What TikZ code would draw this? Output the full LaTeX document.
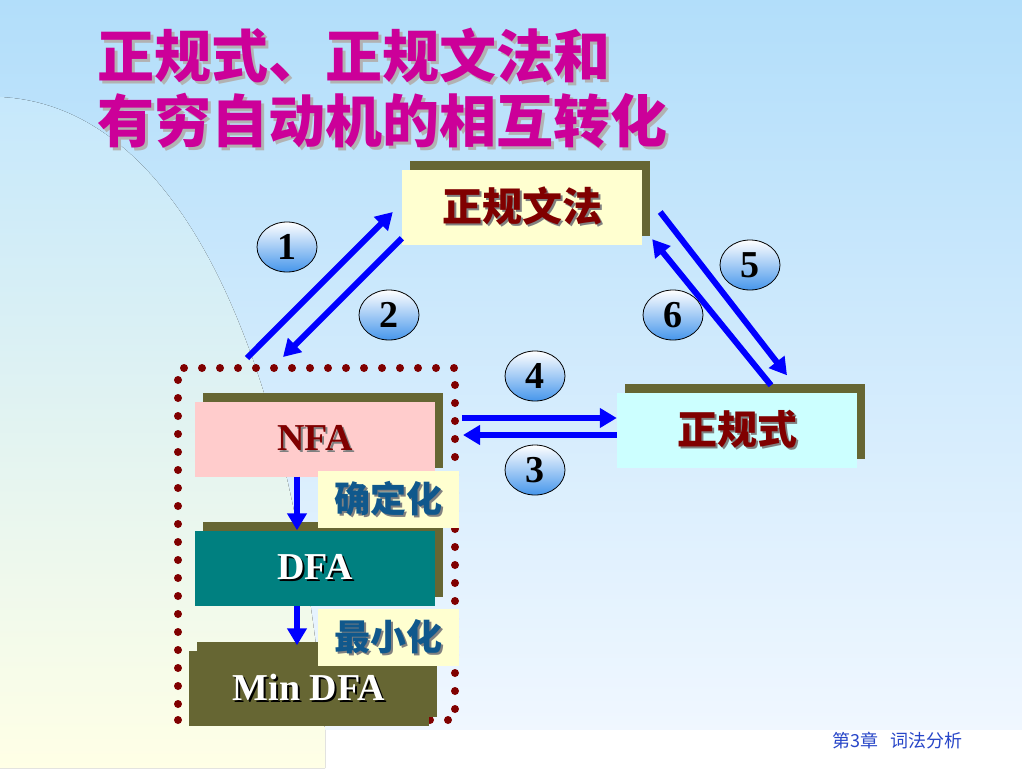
\documentclass[tikz,border=0pt]{standalone}
\usepackage{fontspec}
\setmainfont{Liberation Serif}
\newfontfamily\cjk{Noto Sans CJK SC}
\usetikzlibrary{arrows.meta,shapes.geometric,shadows}

\definecolor{bgblue}{RGB}{178,222,250}
\definecolor{bglow}{RGB}{240,247,255}
\definecolor{bgleft}{RGB}{198,232,252}
\definecolor{bgyellow}{RGB}{255,255,230}
\definecolor{titlemag}{RGB}{204,0,153}
\definecolor{boxolive}{RGB}{102,102,51}
\definecolor{darkred}{RGB}{128,0,0}
\definecolor{paleyellow}{RGB}{255,255,208}
\definecolor{regcyan}{RGB}{204,255,255}
\definecolor{nfapink}{RGB}{255,204,204}
\definecolor{dfateal}{RGB}{0,128,128}
\definecolor{labelblue}{RGB}{16,88,140}
\definecolor{circblue}{RGB}{70,150,235}
\definecolor{footblue}{RGB}{40,70,200}

% text with a small drop shadow
\newcommand\shad[3][2pt]{\makebox[0pt][l]{\kern#1\raisebox{-#1}{\color{#2}#3}}#3}

\begin{document}
\begin{tikzpicture}[x=1pt, y=-1pt,
  title/.style={text=titlemag, font=\cjk\bfseries\fontsize{57}{57}\selectfont, inner sep=0pt, anchor=west},
  box/.style={minimum width=240pt, minimum height=75pt, inner sep=0pt, drop shadow={shadow xshift=8pt, shadow yshift=9pt, fill=boxolive, opacity=1}},
  cjkbox/.style={box, text=darkred, font=\cjk\bfseries\fontsize{40}{40}\selectfont},
  fabox/.style={box, font=\fontsize{38}{38}\selectfont\bfseries},
  lbl/.style={fill=paleyellow, minimum width=141pt, minimum height=57pt, inner sep=0pt, text=labelblue, font=\cjk\bfseries\fontsize{36}{36}\selectfont},
  num/.style={ellipse, draw=black, line width=0.8pt, top color=white, bottom color=circblue, minimum width=60pt, minimum height=50pt, inner sep=0pt, font=\fontsize{38}{38}\selectfont\bfseries},
  arr/.style={-{Triangle[length=17pt,width=19pt]}, line width=6pt, blue},
  dots/.style={draw=darkred, line width=8pt, dash pattern=on 0pt off 18pt, line cap=round, minimum width=277pt, minimum height=352pt, inner sep=0pt}]
\useasboundingbox (0,0) rectangle (1022,768);
% background
\fill[top color=bgblue, bottom color=bglow] (0,0) rectangle (1022,730);
\fill[white] (0,730) rectangle (1022,768);
\fill[top color=bgleft, bottom color=bgyellow] (0,97) .. controls (170,105) and (290,330) .. (325,730) -- (325,768) -- (0,768) -- cycle;

\node[title] (t1) at (97,57) {\shad[3pt]{gray!60}{正规式、正规文法和}};
\node[title] (t2) at (97,122) {\shad[3pt]{gray!60}{有穷自动机的相互转化}};

\node[dots] (fa) at (316.5,544) {};

\node[cjkbox, fill=paleyellow] (gram) at (522,207.5) {\shad{gray}{正规文法}};
\node[cjkbox, fill=regcyan] (regex) at (737,430) {\shad{gray}{正规式}};
\node[fabox, fill=nfapink, text=darkred] (nfa) at (315,439) {\shad{gray}{NFA}};
\node[fabox, fill=dfateal, text=white] (dfa) at (315,568) {\shad{black}{DFA}};
\node[fabox, fill=boxolive, text=white] (mindfa) at (309,688) {\shad{black}{Min DFA}};

\node[lbl] (det) at (388.5,499.5) {\shad{gray}{确定化}};
\node[lbl] (minim) at (388.5,637.5) {\shad{gray}{最小化}};

\coordinate (f1) at (247,358);
\coordinate (f2) at (283,357);
\coordinate (f4) at (462,418);
\coordinate (f3) at (463,435);

\draw[arr] (f1) -- ([xshift=-9pt,yshift=-4.5pt]gram.west);
\draw[arr] ([yshift=7pt]gram.south west) -- (f2);
\draw[arr] (f4) -- ([yshift=12pt]regex.west);
\draw[arr] ([yshift=-5pt]regex.west) -- (f3);
\draw[arr] ([xshift=18pt,yshift=-4.5pt]gram.east) -- ([xshift=50pt,yshift=17pt]regex.north);
\draw[arr] ([xshift=34pt,yshift=7pt]regex.north) -- ([xshift=10pt,yshift=6pt]gram.south east);
\draw[arr] ([xshift=-18pt]nfa.south) -- ([xshift=-18pt]dfa.north);
\draw[arr] ([xshift=-18pt]dfa.south) -- ([xshift=-12pt,yshift=5pt]mindfa.north);

\node[num] (n1) at (287,247) {1};
\node[num] (n2) at (389,315) {2};
\node[num] (n3) at (535,470) {3};
\node[num] (n4) at (535,376) {4};
\node[num] (n5) at (750,265) {5};
\node[num] (n6) at (673,315) {6};

\node[text=footblue, font=\cjk\fontsize{18}{18}\selectfont, anchor=west, inner sep=0pt] (foot) at (832,741) {第3章\hspace{12pt}词法分析};
\end{tikzpicture}
\end{document}
